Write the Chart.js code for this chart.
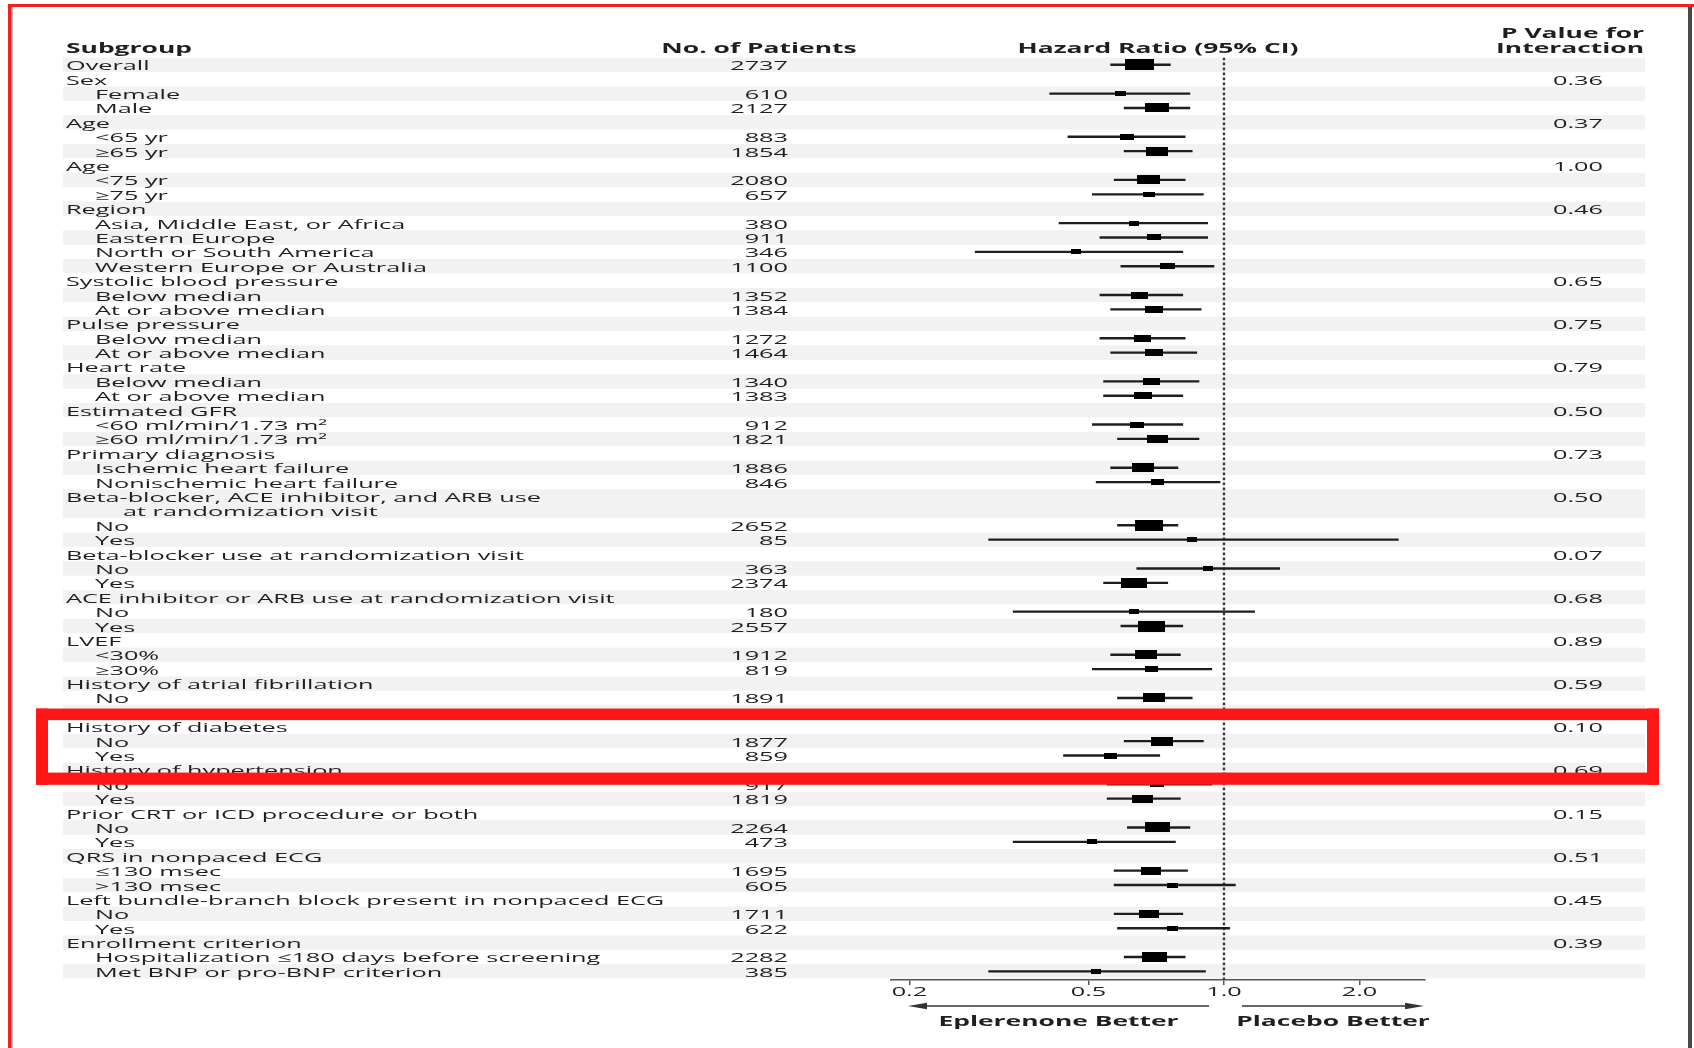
<!DOCTYPE html>
<html>
<head>
<meta charset="utf-8">
<title>Subgroup analysis – hazard ratios</title>
<script src="https://cdn.jsdelivr.net/npm/chart.js@4.4.1/dist/chart.umd.min.js"></script>
<style>
  html, body { margin: 0; padding: 0; background: #fff; overflow: hidden; }
  #wrap { width: 1694px; height: 1048px; position: relative; }
</style>
</head>
<body>
<div id="wrap"><canvas id="forest" width="1694" height="1048"></canvas></div>
<script>
// ---- data -----------------------------------------------------------------
const subgroups = [
  'Overall', 'Sex', 'Female', 'Male', 'Age', '<65 yr', '\u226565 yr', 'Age', '<75 yr', '\u226575 yr',
  'Region', 'Asia, Middle East, or Africa', 'Eastern Europe', 'North or South America', 'Western Europe or Australia',
  'Systolic blood pressure', 'Below median', 'At or above median',
  'Pulse pressure', 'Below median', 'At or above median',
  'Heart rate', 'Below median', 'At or above median',
  'Estimated GFR', '<60 ml/min/1.73 m\u00b2', '\u226560 ml/min/1.73 m\u00b2',
  'Primary diagnosis', 'Ischemic heart failure', 'Nonischemic heart failure',
  'Beta-blocker, ACE inhibitor, and ARB use', 'at randomization visit', 'No', 'Yes',
  'Beta-blocker use at randomization visit', 'No', 'Yes',
  'ACE inhibitor or ARB use at randomization visit', 'No', 'Yes',
  'LVEF', '<30%', '\u226530%',
  'History of atrial fibrillation', 'No', 'Yes',
  'History of diabetes', 'No', 'Yes',
  'History of hypertension', 'No', 'Yes',
  'Prior CRT or ICD procedure or both', 'No', 'Yes',
  'QRS in nonpaced ECG', '\u2264130 msec', '>130 msec',
  'Left bundle-branch block present in nonpaced ECG', 'No', 'Yes',
  'Enrollment criterion', 'Hospitalization \u2264180 days before screening', 'Met BNP or pro-BNP criterion'
];

// 0 = heading, 1 = subgroup, 2 = wrapped continuation of the heading above
const levels = [
  0, 0, 1, 1, 0, 1, 1, 0, 1, 1,
  0, 1, 1, 1, 1, 0, 1, 1, 0, 1,
  1, 0, 1, 1, 0, 1, 1, 0, 1, 1,
  0, 2, 1, 1, 0, 1, 1, 0, 1, 1,
  0, 1, 1, 0, 1, 1, 0, 1, 1, 0,
  1, 1, 0, 1, 1, 0, 1, 1, 0, 1,
  1, 0, 1, 1
];

const patients = [
  2737, null, 610, 2127, null, 883, 1854, null, 2080, 657,
  null, 380, 911, 346, 1100, null, 1352, 1384, null, 1272,
  1464, null, 1340, 1383, null, 912, 1821, null, 1886, 846,
  null, null, 2652, 85, null, 363, 2374, null, 180, 2557,
  null, 1912, 819, null, 1891, null, null, 1877, 859, null,
  917, 1819, null, 2264, 473, null, 1695, 605, null, 1711,
  622, null, 2282, 385
];

const hazardRatio = [
  0.65, null, 0.59, 0.71, null, 0.61, 0.71, null, 0.68, 0.68,
  null, 0.63, 0.70, 0.47, 0.75, null, 0.65, 0.70, null, 0.66,
  0.70, null, 0.69, 0.66, null, 0.64, 0.71, null, 0.66, 0.71,
  null, null, 0.68, 0.85, null, 0.92, 0.63, null, 0.63, 0.69,
  null, 0.67, 0.69, null, 0.70, null, null, 0.73, 0.56, null,
  0.71, 0.66, null, 0.71, 0.51, null, 0.69, 0.77, null, 0.68,
  0.77, null, 0.70, 0.52
];

const ciLower = [
  0.56, null, 0.41, 0.60, null, 0.45, 0.60, null, 0.57, 0.51,
  null, 0.43, 0.53, 0.28, 0.59, null, 0.53, 0.56, null, 0.53,
  0.56, null, 0.54, 0.54, null, 0.51, 0.58, null, 0.56, 0.52,
  null, null, 0.58, 0.30, null, 0.64, 0.54, null, 0.34, 0.59,
  null, 0.56, 0.51, null, 0.58, null, null, 0.60, 0.44, null,
  0.55, 0.55, null, 0.61, 0.34, null, 0.57, 0.57, null, 0.57,
  0.58, null, 0.60, 0.30
];

const ciUpper = [
  0.76, null, 0.84, 0.84, null, 0.82, 0.85, null, 0.82, 0.90,
  null, 0.92, 0.92, 0.81, 0.95, null, 0.81, 0.89, null, 0.82,
  0.87, null, 0.88, 0.81, null, 0.81, 0.88, null, 0.79, 0.98,
  null, null, 0.79, 2.44, null, 1.33, 0.75, null, 1.17, 0.81,
  null, 0.80, 0.94, null, 0.85, null, null, 0.90, 0.72, null,
  0.94, 0.80, null, 0.84, 0.78, null, 0.83, 1.06, null, 0.81,
  1.03, null, 0.82, 0.91
];

const pInteraction = [
  null, 0.36, null, null, 0.37, null, null, 1.00, null, null,
  0.46, null, null, null, null, 0.65, null, null, 0.75, null,
  null, 0.79, null, null, 0.50, null, null, 0.73, null, null,
  0.50, null, null, null, 0.07, null, null, 0.68, null, null,
  0.89, null, null, 0.59, null, null, 0.10, null, null, 0.69,
  null, null, 0.15, null, null, 0.51, null, null, 0.45, null,
  null, 0.39, null, null
];

const axisTicks = [0.2, 0.5, 1.0, 2.0];
const axisTickLabels = ['0.2', '0.5', '1.0', '2.0'];
const columnHeaders = ['Subgroup', 'No. of Patients', 'Hazard Ratio (95% CI)', 'P Value for', 'Interaction'];
const directionLabels = ['Eplerenone Better', 'Placebo Better'];

// ---- styling ----------------------------------------------------------------
const REGULAR_FONT = '13px "Open Sans"';
const BOLD_FONT = 'bold 13.5px "Open Sans"';
const TEXT_COLOR = '#1f1f1f';
const SHADE_COLOR = '#f2f2f2';
const HIGHLIGHT_RED = '#ff1717';
const TEXT_DROP = 1.8;   // optical centring of the text on each row

const measureCtx = document.createElement('canvas').getContext('2d');
function stretchFor(font, sample, width) {
  measureCtx.font = font;
  return width / measureCtx.measureText(sample).width;
}
// the typeset is set wide; glyphs are scaled horizontally
const regularStretch = stretchFor(REGULAR_FONT, subgroups[14], 332);
const boldStretch = stretchFor(BOLD_FONT, columnHeaders[2], 281);

function drawText(ctx, str, x, y, align, bold) {
  const font = bold ? BOLD_FONT : REGULAR_FONT;
  const sx = bold ? boldStretch : regularStretch;
  ctx.save();
  ctx.font = font;
  ctx.fillStyle = TEXT_COLOR;
  ctx.textBaseline = 'middle';
  ctx.textAlign = 'left';
  const w = ctx.measureText(str).width * sx;
  const left = align === 'left' ? x : align === 'right' ? x - w : x - w / 2;
  ctx.translate(left, y + TEXT_DROP);
  ctx.scale(sx, 1);
  ctx.fillText(str, 0, 0);
  ctx.restore();
}

// marker size grows with the number of patients in the subgroup
function markerFor(n) {
  const w = Math.max(10, 6.3 + 0.0082 * n);
  const h = 0.35 * w + 1;
  const c = document.createElement('canvas');
  c.width = Math.round(w);
  c.height = Math.max(4, Math.round(h));
  const g = c.getContext('2d');
  g.fillStyle = '#000';
  g.fillRect(0, 0, c.width, c.height);
  return c;
}

// ---- datasets -----------------------------------------------------------------
const ciData = [];
const pointData = [];
const markers = [];
subgroups.forEach((_, i) => {
  if (hazardRatio[i] == null) return;
  ciData.push({ y: i + 1, x: [ciLower[i], ciUpper[i]] });
  pointData.push({ x: hazardRatio[i], y: i + 1 });
  markers.push(markerFor(patients[i]));
});

const LABEL_X = [66, 95, 123];

const tablePlugin = {
  id: 'tablePlugin',
  beforeDraw(chart) {
    const { ctx } = chart;
    const ys = chart.scales.y;
    ctx.save();
    ctx.fillStyle = '#fff';
    ctx.fillRect(0, 0, chart.width, chart.height);

    // alternating row bands (wrapped headings share one band)
    let band = -1;
    ctx.fillStyle = SHADE_COLOR;
    subgroups.forEach((_, i) => {
      if (levels[i] !== 2) band++;
      if (band % 2 === 0) {
        const top = ys.getPixelForValue(i + 0.5);
        const bottom = ys.getPixelForValue(i + 1.5);
        ctx.fillRect(63, top, 1645 - 63, bottom - top);
      }
    });
    ctx.restore();

    // column headers
    drawText(ctx, columnHeaders[0], 66, 47, 'left', true);
    drawText(ctx, columnHeaders[1], 759, 47, 'center', true);
    drawText(ctx, columnHeaders[2], 1158, 47, 'center', true);
    drawText(ctx, columnHeaders[3], 1644, 32, 'right', true);
    drawText(ctx, columnHeaders[4], 1644, 47, 'right', true);

    // table body
    subgroups.forEach((label, i) => {
      const y = ys.getPixelForValue(i + 1);
      drawText(ctx, label, LABEL_X[levels[i]], y, 'left', false);
      if (patients[i] != null) drawText(ctx, String(patients[i]), 788, y, 'right', false);
      if (pInteraction[i] != null) drawText(ctx, pInteraction[i].toFixed(2), 1603, y, 'right', false);
    });
  },
  afterDraw(chart) {
    const { ctx, chartArea } = chart;
    const xs = chart.scales.x;
    const ys = chart.scales.y;

    // tick labels
    axisTicks.forEach((v, k) => drawText(ctx, axisTickLabels[k], xs.getPixelForValue(v), 990, 'center', false));

    // direction arrows
    const one = xs.getPixelForValue(1);
    const arrowY = 1006;
    const arrows = [
      { from: one - 15, to: chartArea.left + 17 },
      { from: one + 18, to: chartArea.right - 1 }
    ];
    ctx.save();
    ctx.strokeStyle = '#333';
    ctx.fillStyle = '#333';
    ctx.lineWidth = 1.5;
    arrows.forEach(a => {
      const dir = Math.sign(a.to - a.from);
      ctx.beginPath();
      ctx.moveTo(a.from, arrowY);
      ctx.lineTo(a.to - dir * 14, arrowY);
      ctx.stroke();
      ctx.beginPath();
      ctx.moveTo(a.to, arrowY);
      ctx.lineTo(a.to - dir * 19, arrowY - 3.2);
      ctx.lineTo(a.to - dir * 19, arrowY + 3.2);
      ctx.closePath();
      ctx.fill();
    });
    ctx.restore();
    drawText(ctx, directionLabels[0], (arrows[0].from + arrows[0].to) / 2, 1020, 'center', true);
    drawText(ctx, directionLabels[1], (arrows[1].from + arrows[1].to) / 2, 1020, 'center', true);

    // highlight box around the diabetes subgroup
    ctx.save();
    ctx.fillStyle = HIGHLIGHT_RED;
    const top = ys.getPixelForValue(46.5) - 11;
    const bottom = ys.getPixelForValue(50.2) + 12;
    const left = 36, right = 1659, t = 12;
    ctx.fillRect(left, top, right - left, 11.6);
    ctx.fillRect(left, bottom - 12.2, right - left, 12.2);
    ctx.fillRect(left, top, t, bottom - top);
    ctx.fillRect(right - t, top, t, bottom - top);

    // page frame
    ctx.fillStyle = '#ee2222';
    ctx.fillRect(8, 4, chart.width - 8, 3);
    ctx.fillRect(8, 4, 3, chart.height - 4);
    ctx.fillStyle = '#8a8a8a';
    ctx.fillRect(11, 7, 1.5, chart.height - 7);
    ctx.fillStyle = '#4a4a4a';
    ctx.fillRect(1688, 7, 4, chart.height - 7);
    ctx.restore();
  }
};

new Chart(document.getElementById('forest'), {
  type: 'bar',
  data: {
    datasets: [
      {
        type: 'scatter',
        label: 'Hazard ratio',
        data: pointData,
        pointStyle: ctx => markers[ctx.dataIndex],
        pointRadius: 3,
        order: 0
      },
      {
        type: 'bar',
        label: '95% CI',
        indexAxis: 'y',
        data: ciData,
        backgroundColor: '#1e1e1e',
        borderWidth: 0,
        barThickness: 1.7,
        order: 1
      },
      {
        type: 'line',
        label: 'No effect',
        data: [{ x: 1, y: 0.5 }, { x: 1, y: 64.6 }],
        borderColor: '#3a3a3a',
        borderWidth: 2.4,
        borderDash: [2.6, 2.4],
        pointRadius: 0,
        order: 2
      }
    ]
  },
  plugins: [tablePlugin],
  options: {
    responsive: false,
    animation: false,
    events: [],
    layout: { padding: { left: 891, right: 1694 - 1425, top: 57.6, bottom: 63 } },
    plugins: { legend: { display: false }, tooltip: { enabled: false }, title: { display: false } },
    scales: {
      x: {
        type: 'logarithmic',
        position: 'bottom',
        offset: false,
        min: 0.182,
        max: 2.797,
        afterBuildTicks: scale => { scale.ticks = axisTicks.map(v => ({ value: v })); },
        ticks: { display: false },
        grid: { display: true, offset: false, drawOnChartArea: false, drawTicks: true, tickLength: 5, color: '#555', lineWidth: 1.5 },
        border: { display: true, color: '#555', width: 1.5 }
      },
      y: {
        type: 'linear',
        reverse: true,
        offset: false,
        min: 0.5,
        max: 64.6,
        grid: { offset: false },
        display: false
      }
    }
  }
});
</script>
</body>
</html>
